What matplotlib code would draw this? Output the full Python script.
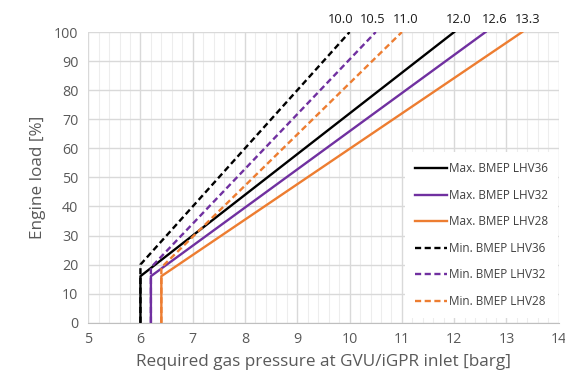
import matplotlib
matplotlib.use("Agg")
import matplotlib.pyplot as plt
from matplotlib.ticker import MultipleLocator

# Data
labels = ["Max. BMEP LHV36", "Max. BMEP LHV32", "Max. BMEP LHV28",
          "Min. BMEP LHV36", "Min. BMEP LHV32", "Min. BMEP LHV28"]
series_x = [
    [6.0, 6.0, 12.0],
    [6.2, 6.2, 12.6],
    [6.4, 6.4, 13.3],
    [6.0, 6.0, 10.0],
    [6.2, 6.2, 10.5],
    [6.4, 6.4, 11.0],
]
series_y = [
    [0, 16, 100],
    [0, 16, 100],
    [0, 16, 100],
    [0, 20, 100],
    [0, 19, 100],
    [0, 19, 100],
]
end_labels = ["10.0", "10.5", "11.0", "12.0", "12.6", "13.3"]
end_x = [10.0, 10.5, 11.0, 12.0, 12.6, 13.3]
# label placement offsets (points)
end_dx = [-6.5, -2.0, 3.0, 3.5, 6.5, 4.3]

colors = ["#000000", "#7030A0", "#ED7D31", "#000000", "#7030A0", "#ED7D31"]
styles = ["-", "-", "-", "--", "--", "--"]

plt.rcParams['font.family'] = ['Open Sans', 'DejaVu Sans']

fig = plt.figure(figsize=(5.65, 3.79), dpi=100)
ax = fig.add_axes([0.156, 0.1485, 0.833, 0.767])

for xs, ys, c, ls, lab in zip(series_x, series_y, colors, styles, labels):
    ax.plot(xs, ys, color=c, linestyle=ls, linewidth=1.7, label=lab,
            dashes=(2.6, 1.5) if ls == "--" else (None, None), zorder=3)

for xv, t, dx in zip(end_x, end_labels, end_dx):
    ax.annotate(t, xy=(xv, 100), xytext=(dx, 4.5), textcoords="offset points",
                ha="center", va="bottom", fontsize=9.3, color="#1a1a1a",
                annotation_clip=False)

ax.set_xlim(5, 14)
ax.set_ylim(0, 100)
ax.xaxis.set_major_locator(MultipleLocator(1))
ax.xaxis.set_minor_locator(MultipleLocator(0.2))
ax.yaxis.set_major_locator(MultipleLocator(10))
ax.grid(which="major", color="#D9D9D9", linewidth=1.0, zorder=0)
ax.grid(which="minor", axis="x", color="#EDEDED", linewidth=0.8, zorder=0)
ax.set_axisbelow(True)
for s in ["top", "right", "left"]:
    ax.spines[s].set_visible(False)
ax.spines["bottom"].set_color("#BFBFBF")
ax.tick_params(which="both", length=0, labelsize=10.3, colors="#595959", pad=7)

ax.set_xlabel("Required gas pressure at GVU/iGPR inlet [barg]", fontsize=12.3, color="#595959", labelpad=5)
ax.set_ylabel("Engine load [%]", fontsize=12.3, color="#595959", labelpad=6)

leg = ax.legend(loc="lower right", bbox_to_anchor=(0.999, 0.016), fontsize=8.5,
                frameon=True, fancybox=False, handlelength=2.7, handletextpad=0.2,
                labelspacing=1.15, borderpad=0.85, labelcolor="#404040",
                borderaxespad=0.0)
leg.get_frame().set_edgecolor("white")
leg.get_frame().set_facecolor("white")
leg.get_frame().set_alpha(1.0)
leg.get_frame().set_linewidth(0)

fig.savefig("out.png", dpi=100)
